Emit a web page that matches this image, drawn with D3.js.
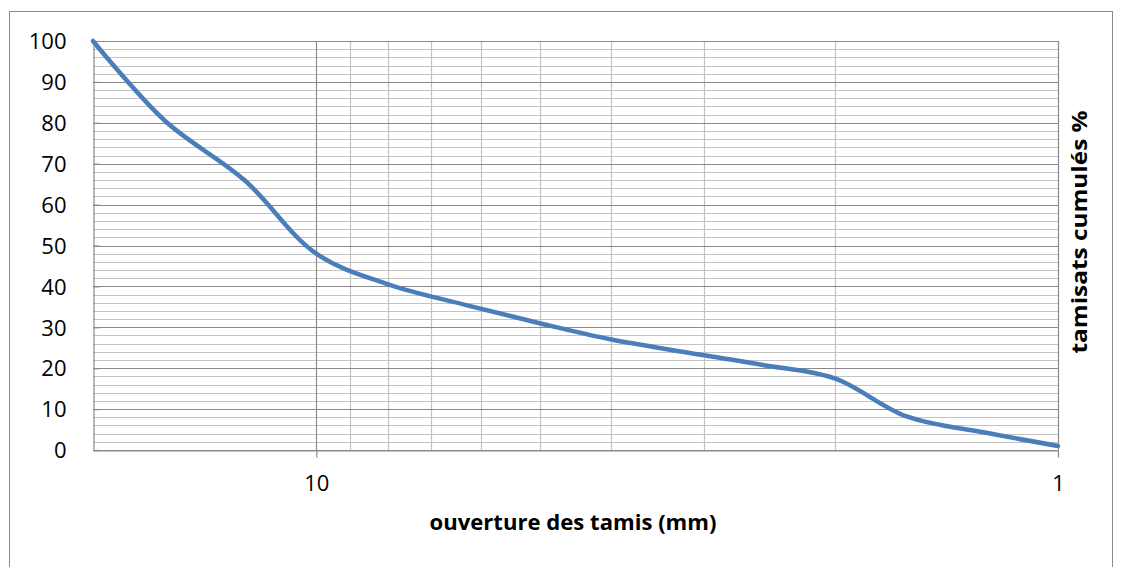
<!DOCTYPE html>
<html>
<head>
<meta charset="utf-8">
<script src="https://cdn.jsdelivr.net/npm/d3@7"></script>
<style>
  html, body { margin: 0; padding: 0; background: #fff; }
  svg { display: block; }
  text { font-family: "Open Sans", "Noto Sans", sans-serif; fill: #000; }
</style>
</head>
<body>
<svg id="chart" width="1122" height="567"></svg>
<script>
// Sieve openings (mm) and cumulative passing (%)
const openings = [20, 16, 12.5, 10, 8, 6.3, 5, 4, 3.15, 2.5, 2, 1.6, 1.25, 1];
const passing  = [100, 80.5, 66, 48, 40.5, 35.5, 31, 27, 23.8, 20.8, 17.5, 8.2, 4.2, 1];

const xMajorTicks = [10, 1];
const xMinorTicks = [9, 8, 7, 6, 5, 4, 3, 2];
const yMajorTicks = [0, 10, 20, 30, 40, 50, 60, 70, 80, 90, 100];
const yMinorTicks = d3.range(0, 101, 2).filter(v => v % 10 !== 0);

const xTitle = "ouverture des tamis (mm)";
const yTitle = "tamisats cumulés %";

const svg = d3.select("#chart");
const FONT = "'Open Sans', 'Noto Sans', sans-serif";

// chart frame
svg.append("rect")
  .attr("x", 9.5).attr("y", 11.5)
  .attr("width", 1103).attr("height", 600)
  .attr("fill", "#fff").attr("stroke", "#8a8a8a").attr("stroke-width", 1);

const x = d3.scaleLog().domain([20, 1]).range([93, 1058]);
const y = d3.scaleLinear().domain([0, 100]).range([450, 41]);

const px = v => Math.round(v) + 0.5;
const grid = svg.append("g");

// horizontal minor gridlines
grid.selectAll("line.hmin").data(yMinorTicks).join("line")
  .attr("x1", x(20)).attr("x2", x(1))
  .attr("y1", d => px(y(d))).attr("y2", d => px(y(d)))
  .attr("stroke", "#c3c3c3").attr("stroke-width", 1.2);

// vertical minor gridlines
grid.selectAll("line.vmin").data(xMinorTicks).join("line")
  .attr("x1", d => px(x(d))).attr("x2", d => px(x(d)))
  .attr("y1", y(100)).attr("y2", y(0))
  .attr("stroke", "#c3c3c3").attr("stroke-width", 1.2);

// horizontal major gridlines
grid.selectAll("line.hmaj").data(yMajorTicks).join("line")
  .attr("x1", x(20)).attr("x2", x(1))
  .attr("y1", d => px(y(d))).attr("y2", d => px(y(d)))
  .attr("stroke", "#8a8a8a").attr("stroke-width", 1.2);

// vertical major gridlines
grid.selectAll("line.vmaj").data(xMajorTicks).join("line")
  .attr("x1", d => px(x(d))).attr("x2", d => px(x(d)))
  .attr("y1", y(100)).attr("y2", y(0))
  .attr("stroke", "#8a8a8a").attr("stroke-width", 1.2);

// y axis (left) with short inner ticks
const yAxis = d3.axisLeft(y).tickValues(yMajorTicks).tickSize(0).tickPadding(27);
const gy = svg.append("g").attr("transform", `translate(${px(x(20))},0)`).call(yAxis);
gy.select(".domain").attr("stroke", "#8a8a8a").attr("stroke-width", 1.2);
gy.selectAll(".tick text").attr("font-size", 22).attr("font-family", FONT)
  .attr("x", -27).attr("dy", "0.35em");
gy.selectAll(".tick").append("line")
  .attr("x1", 0).attr("x2", 6).attr("stroke", "#8a8a8a").attr("stroke-width", 1.2);

// x axis (bottom), decades only
const xAxis = d3.axisBottom(x).tickValues(xMajorTicks).tickFormat(d3.format("d"))
  .tickSizeInner(7).tickSizeOuter(0).tickPadding(18);
const gx = svg.append("g").attr("transform", `translate(0,${px(y(0))})`).call(xAxis);
gx.select(".domain").attr("stroke", "#8a8a8a").attr("stroke-width", 1.2);
gx.selectAll(".tick line").attr("stroke", "#8a8a8a").attr("stroke-width", 1.2);
gx.selectAll(".tick text").attr("font-size", 22).attr("font-family", FONT);

// grading curve
const pts = openings.map((d, i) => [d, passing[i]]);
const line = d3.line()
  .x(d => x(d[0])).y(d => y(d[1]))
  .curve(d3.curveCatmullRom.alpha(0.5));
svg.append("path")
  .datum(pts)
  .attr("d", line)
  .attr("fill", "none")
  .attr("stroke", "#4a7ebb")
  .attr("stroke-width", 4.5)
  .attr("stroke-linejoin", "round")
  .attr("stroke-linecap", "round");

// axis titles
svg.append("text")
  .attr("x", 573).attr("y", 530)
  .attr("text-anchor", "middle")
  .attr("font-size", 22).attr("font-weight", "bold")
  .attr("textLength", 287).attr("lengthAdjust", "spacingAndGlyphs")
  .text(xTitle);

svg.append("text")
  .attr("transform", "translate(1087,232) rotate(-90)")
  .attr("text-anchor", "middle")
  .attr("font-size", 22).attr("font-weight", "bold")
  .attr("textLength", 243).attr("lengthAdjust", "spacingAndGlyphs")
  .text(yTitle);
</script>
</body>
</html>
